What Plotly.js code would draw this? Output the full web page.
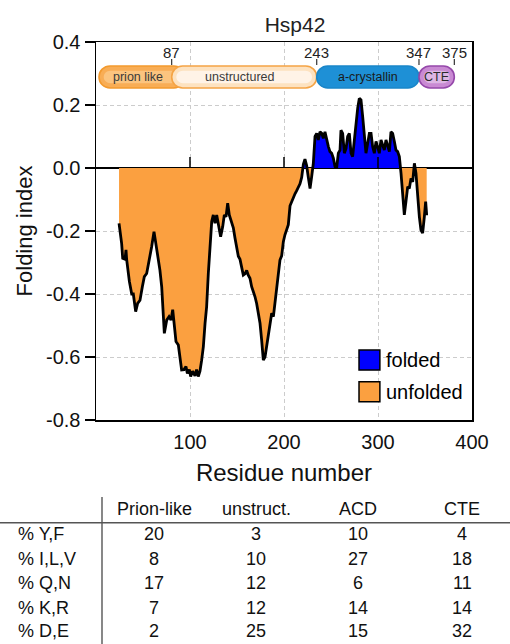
<!DOCTYPE html>
<html>
<head>
<meta charset="utf-8">
<script src="https://cdn.plot.ly/plotly-3.0.1.min.js"></script>
<style>
  html, body { margin: 0; padding: 0; background: #fff; }
  #chart { width: 510px; height: 644px; }
</style>
</head>
<body>
<div id="chart"></div>
<script>
// ---------------- data ----------------
const residues = [24.5,25.5,27.3,28.4,30.9,31.9,32.6,35.5,38,39.7,42.2,44.3,46.8,49.3,51.4,53.9,56.7,59.2,61.7,63.8,65.2,68,69.9,71.6,72.7,75.2,77.7,79.8,81.6,83,85.1,87.6,89.4,91.1,93.6,95.7,97.2,99.3,100.7,102.8,105.3,107,108.8,110.6,112.4,114.2,116,117.7,119.5,121.3,123.1,124.8,126.6,128.4,130.1,132.6,134.8,136.5,138.3,140.1,141.8,144.3,146.1,147.9,149.6,151.4,153.2,155,156.7,158.5,160.3,162,163.8,165.6,167.4,169.1,170.9,172.7,174.5,176.2,178,179.8,181.6,183.3,185.1,186.9,188.7,190.4,192.2,194,195.7,197.5,199.3,201,202.8,204.6,206.4,208.2,209.9,211.7,213.5,215.2,217,218.8,220.6,222.3,224.1,225.9,227.7,229.4,231.2,233,234.8,236.5,238.3,240.1,241.8,243.6,245.4,247.2,248.9,250.7,252.5,254.3,256,257.8,259.6,260.6,262.4,264.2,266,267.7,269.5,271.3,273,274.8,276.6,278.4,280.1,281.9,283.7,285.5,287.2,289,290.8,292.6,294.3,296.1,297.9,299.6,301.4,303.2,305,306.7,308.5,310.3,312.1,313.8,315.6,317.4,319.1,320.9,322.7,324.5,326.2,328,329.8,331.6,333.3,335.1,336.9,338.7,340.4,342.2,344,345.7,347.5,349.3,350.7,351.8];
const foldingIndex = [-0.176,-0.2,-0.24,-0.287,-0.29,-0.26,-0.29,-0.36,-0.4,-0.4,-0.456,-0.43,-0.42,-0.377,-0.345,-0.335,-0.292,-0.25,-0.202,-0.24,-0.26,-0.324,-0.377,-0.45,-0.525,-0.483,-0.472,-0.483,-0.45,-0.49,-0.551,-0.562,-0.61,-0.641,-0.64,-0.63,-0.652,-0.64,-0.662,-0.645,-0.66,-0.64,-0.662,-0.645,-0.61,-0.567,-0.493,-0.44,-0.334,-0.24,-0.17,-0.149,-0.175,-0.149,-0.181,-0.218,-0.186,-0.149,-0.155,-0.112,-0.149,-0.17,-0.19,-0.223,-0.25,-0.28,-0.29,-0.318,-0.34,-0.336,-0.325,-0.34,-0.35,-0.377,-0.39,-0.408,-0.43,-0.456,-0.493,-0.546,-0.61,-0.6,-0.567,-0.525,-0.493,-0.461,-0.472,-0.43,-0.377,-0.324,-0.292,-0.279,-0.234,-0.212,-0.197,-0.18,-0.12,-0.105,-0.09,-0.082,-0.072,-0.062,-0.05,-0.03,0.012,0.028,0.008,-0.03,-0.065,-0.028,0.015,0.1,0.11,0.089,0.115,0.11,0.094,0.115,0.089,0.068,0.052,0.047,0.031,0.004,0.0,0.047,0.057,0.12,0.11,0.047,0.062,0.1,0.11,0.047,0.036,0.089,0.142,0.19,0.221,0.216,0.163,0.089,0.047,0.078,0.11,0.11,0.068,0.047,0.084,0.068,0.047,0.089,0.068,0.057,0.089,0.073,0.052,0.115,0.11,0.084,0.057,0.052,0.036,-0.017,-0.08,-0.149,-0.105,-0.059,-0.065,-0.033,-0.044,0.015,-0.017,-0.1,-0.155,-0.197,-0.207,-0.155,-0.107,-0.15];

const xTickVals = [100, 200, 300, 400];
const xTickText = ['100', '200', '300', '400'];
const yTickVals = [0.4, 0.2, 0.0, -0.2, -0.4, -0.6, -0.8];
const yTickText = ['0.4', '0.2', '0.0', '-0.2', '-0.4', '-0.6', '-0.8'];

const seriesNames = ['folded', 'unfolded'];

const domainNames = ['prion like', 'unstructured', 'a-crystallin', 'CTE'];
const domainBoundaryLabels = ['87', '243', '347', '375'];

const tableColumns = ['Prion-like', 'unstruct.', 'ACD', 'CTE'];
const tableRows = ['% Y,F', '% I,L,V', '% Q,N', '% K,R', '% D,E'];
const tableYF  = [20, 3, 10, 4];
const tableILV = [8, 10, 27, 18];
const tableQN  = [17, 12, 6, 11];
const tableKR  = [7, 12, 14, 14];
const tableDE  = [2, 25, 15, 32];
const tableValues = [tableYF, tableILV, tableQN, tableKR, tableDE];

// ---------------- styles / layout config ----------------
const FONT = 'Liberation Sans, Arial, Helvetica, sans-serif';
const COL_FOLDED = '#0000ff';
const COL_UNFOLDED = '#fba040';

// schematic (not to scale) domain edges in axis units
const schemEdges = [3.2, 80.5, 234.8, 343.6, 381.2];
const schemLabelX = [45, 153, 289, 362];
const barY0 = 0.254, barY1 = 0.324;
const barRx = 11.7;
const domainStyle = [
  {fill: '#f8ad55', line: '#f39a2e', inner: '#fbc98a', text: '#3a3a3a'},
  {fill: '#fde2c0', line: '#f5a445', inner: '#fff8f0', text: '#3a3a3a'},
  {fill: '#1e90d6', line: '#1a86c9', inner: null,     text: '#1a1a1a'},
  {fill: '#c98ad3', line: '#9548aa', inner: '#e2c0e8', text: '#2a2a2a'}
];

function pill(x0, x1, y0, y1, rx) {
  const k = 0.5523;
  const ry = (y1 - y0) / 2, ym = (y0 + y1) / 2;
  return `M ${x0+rx},${y1} L ${x1-rx},${y1} ` +
    `C ${x1-rx+k*rx},${y1} ${x1},${ym+k*ry} ${x1},${ym} ` +
    `C ${x1},${ym-k*ry} ${x1-rx+k*rx},${y0} ${x1-rx},${y0} ` +
    `L ${x0+rx},${y0} ` +
    `C ${x0+rx-k*rx},${y0} ${x0},${ym-k*ry} ${x0},${ym} ` +
    `C ${x0},${ym+k*ry} ${x0+rx-k*rx},${y1} ${x0+rx},${y1} Z`;
}

// ---------------- traces ----------------
const folded = foldingIndex.map(v => v > 0 ? v : 0);
const unfolded = foldingIndex.map(v => v < 0 ? v : 0);

const traces = [
  {x: residues, y: unfolded, type: 'scatter', mode: 'lines', name: seriesNames[1],
   fill: 'tozeroy', fillcolor: COL_UNFOLDED, line: {width: 0, color: COL_UNFOLDED}, showlegend: false, hoverinfo: 'skip'},
  {x: residues, y: folded, type: 'scatter', mode: 'lines', name: seriesNames[0],
   fill: 'tozeroy', fillcolor: COL_FOLDED, line: {width: 0, color: COL_FOLDED}, showlegend: false, hoverinfo: 'skip'},
  {x: residues, y: foldingIndex, type: 'scatter', mode: 'lines', name: 'Folding index',
   line: {color: '#000', width: 2.8}, showlegend: false}
];

// ---------------- shapes & annotations ----------------
const shapes = [];
const annotations = [];

// ticks on the zero line
xTickVals.filter(v => v < 400).forEach(v => {
  shapes.push({type: 'line', xref: 'x', yref: 'y', x0: v, x1: v, y0: 0, y1: 0.035,
               line: {color: '#000', width: 1.5}, layer: 'above'});
});

// domain schematic (draw prion first so unstructured overlaps it)
const pillEnds = [[schemEdges[0], schemEdges[1] + 14], [schemEdges[1], schemEdges[2]],
                  [schemEdges[2], schemEdges[3]], [schemEdges[3], schemEdges[4]]];
domainNames.forEach((name, i) => {
  const [a, b] = pillEnds[i];
  const st = domainStyle[i];
  shapes.push({type: 'path', xref: 'x', yref: 'y', path: pill(a, b, barY0, barY1, barRx),
               fillcolor: st.fill, line: {color: st.line, width: 1.6}, layer: 'above'});
  if (st.inner) {
    const dy = (barY1 - barY0) * 0.22;
    shapes.push({type: 'path', xref: 'x', yref: 'y',
                 path: pill(a + 5, b - 5, barY0 + dy, barY1 - dy, barRx * 0.6),
                 fillcolor: st.inner, opacity: 0.8, line: {width: 0}, layer: 'above'});
  }
  annotations.push({x: schemLabelX[i], y: (barY0 + barY1) / 2, xref: 'x', yref: 'y',
                    text: name, showarrow: false, font: {family: FONT, size: 12.5, color: st.text}});
});
domainBoundaryLabels.forEach((lab, i) => {
  const xe = schemEdges[i + 1];
  shapes.push({type: 'line', xref: 'x', yref: 'y', x0: xe, x1: xe, y0: 0.327, y1: 0.346,
               line: {color: '#333', width: 1.2}, layer: 'above'});
  annotations.push({x: xe, y: 0.368, xref: 'x', yref: 'y', text: lab, showarrow: false,
                    font: {family: FONT, size: 15, color: '#222'}});
});

// custom legend
const legendCols = [COL_FOLDED, COL_UNFOLDED];
const legendY = [[0.132, 0.185], [0.048, 0.101]];
seriesNames.forEach((nm, i) => {
  shapes.push({type: 'rect', xref: 'paper', yref: 'paper', x0: 0.6995, x1: 0.755,
               y0: legendY[i][0], y1: legendY[i][1], fillcolor: legendCols[i],
               line: {color: '#000', width: 1.5}, layer: 'above'});
  annotations.push({xref: 'paper', yref: 'paper', x: 0.766, y: (legendY[i][0] + legendY[i][1]) / 2,
                    xanchor: 'left', yanchor: 'middle', text: nm, showarrow: false,
                    font: {family: FONT, size: 20, color: '#000'}});
});

// table below the chart (paper coordinates; plot area is 376 x 378 px)
const pxX = px => (px - 96) / 376;
const pxY = py => (420 - py) / 378;
shapes.push({type: 'line', xref: 'paper', yref: 'paper', x0: pxX(0), x1: pxX(510), y0: pxY(522.7), y1: pxY(522.7),
             line: {color: '#555', width: 1.4}});
shapes.push({type: 'line', xref: 'paper', yref: 'paper', x0: pxX(102), x1: pxX(102), y0: pxY(497), y1: pxY(644),
             line: {color: '#555', width: 1.4}});
const colCenters = [154, 256, 358, 462];
const headerY = 509;
const rowYs = [534, 558.5, 583, 607.5, 631];
tableColumns.forEach((c, j) => {
  annotations.push({xref: 'paper', yref: 'paper', x: pxX(colCenters[j]), y: pxY(headerY), text: c,
                    showarrow: false, xanchor: 'center', yanchor: 'middle', font: {family: FONT, size: 18, color: '#111'}});
});
tableRows.forEach((r, i) => {
  annotations.push({xref: 'paper', yref: 'paper', x: pxX(16), y: pxY(rowYs[i]), text: r,
                    showarrow: false, xanchor: 'left', yanchor: 'middle', font: {family: FONT, size: 18, color: '#111'}});
  tableValues[i].forEach((v, j) => {
    annotations.push({xref: 'paper', yref: 'paper', x: pxX(colCenters[j]), y: pxY(rowYs[i]), text: String(v),
                      showarrow: false, xanchor: 'center', yanchor: 'middle', font: {family: FONT, size: 18, color: '#111'}});
  });
});

// ---------------- layout ----------------
const layout = {
  width: 510, height: 644,
  margin: {l: 96, r: 38, t: 42, b: 224, pad: 0},
  paper_bgcolor: '#fff', plot_bgcolor: '#fff',
  font: {family: FONT, color: '#111'},
  title: {text: 'Hsp42', font: {family: FONT, size: 21, color: '#222'},
          x: 295 / 510, xanchor: 'center', xref: 'container', y: 1 - 25 / 644, yanchor: 'middle', yref: 'container'},
  xaxis: {
    range: [0, 400], tickvals: xTickVals, ticktext: xTickText, ticks: '',
    showline: true, linecolor: '#000', linewidth: 1.5, mirror: true,
    showgrid: true, gridcolor: '#cccccc', gridwidth: 1, griddash: '4px,3px',
    zeroline: false, tickfont: {family: FONT, size: 20, color: '#111'},
    ticklabelstandoff: 3,
    title: {text: 'Residue number', font: {family: FONT, size: 24, color: '#111'}, standoff: 12},
    automargin: false, fixedrange: true
  },
  yaxis: {
    range: [-0.8, 0.4], tickvals: yTickVals, ticktext: yTickText,
    ticks: 'outside', ticklen: 10, tickwidth: 1.5, tickcolor: '#000',
    showline: true, linecolor: '#000', linewidth: 1.5, mirror: true,
    showgrid: true, gridcolor: '#cccccc', gridwidth: 1, griddash: '4px,3px',
    zeroline: true, zerolinecolor: '#000', zerolinewidth: 1.5,
    tickfont: {family: FONT, size: 20, color: '#111'},
    title: {text: 'Folding index', font: {family: FONT, size: 22, color: '#111'}, standoff: 7},
    automargin: false, fixedrange: true
  },
  shapes: shapes,
  annotations: annotations,
  showlegend: false
};

Plotly.newPlot('chart', traces, layout, {displayModeBar: false, staticPlot: true});
</script>
</body>
</html>
